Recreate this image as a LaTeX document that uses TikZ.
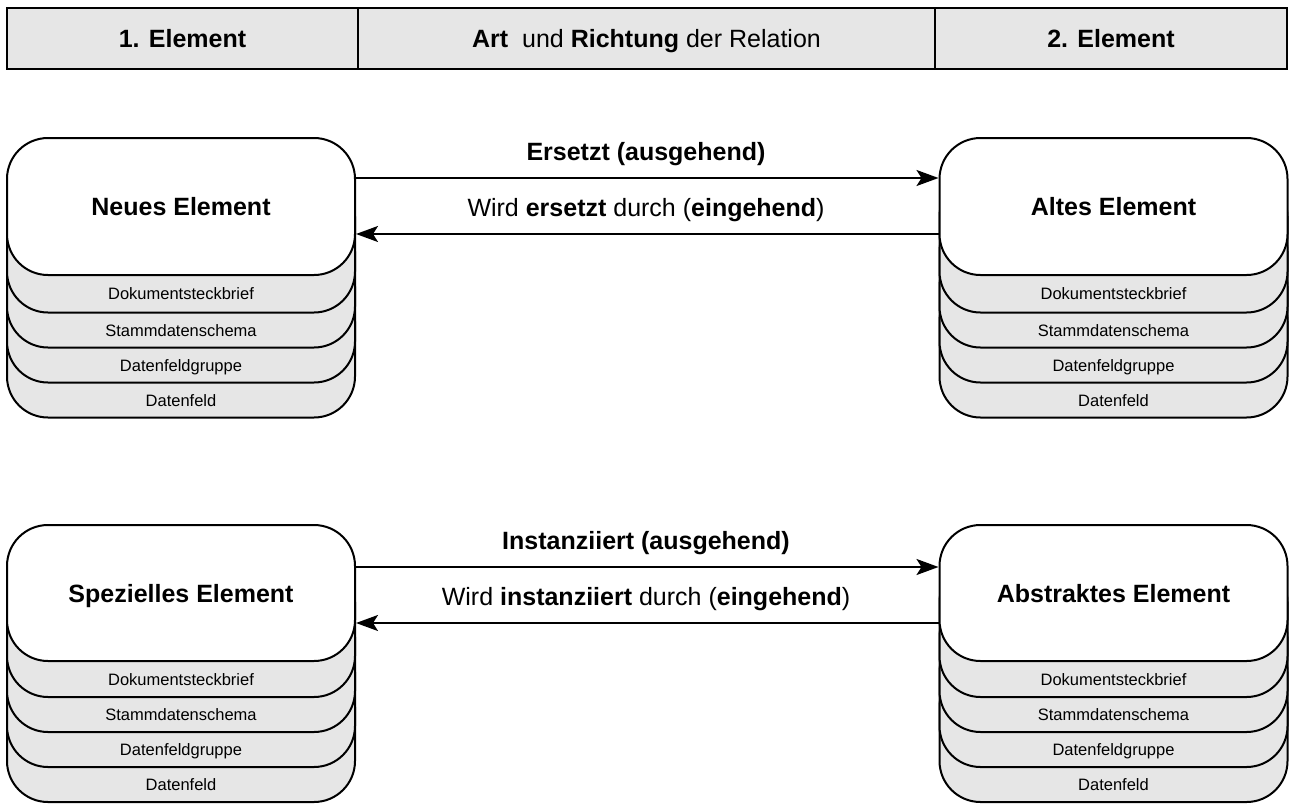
\documentclass[tikz,border=0pt]{standalone}
\usepackage{fontspec}
\setmainfont{Liberation Sans}
\usetikzlibrary{arrows.meta}
\definecolor{boxgray}{HTML}{E6E6E6}
\newcommand\stackbox[6]{%
  \pgfmathsetmacro\sbB{#3+#4}%
  \foreach \k/\lbl in {4/Datenfeld,3/Datenfeldgruppe,2/Stammdatenschema,1/Dokumentsteckbrief}{%
    \pgfmathsetmacro\sbL{\sbB+#5+35*(\k-1)}%
    \pgfmathsetmacro\sbP{\k==1 ? \sbB : \sbL-35}%
    \node[layerbox, minimum height=#4pt] (#1-l\k) at (#2,{-(\sbL-#4/2)}) {};
    \node[layertext] (#1-t\k) at (#2,{-((\sbP+\sbL)/2+6)}) {\lbl};
  }%
  \node[mainbox, minimum height=#4pt] (#1) at (#2,{-(#3+#4/2)}) {#6};
}
\begin{document}
\begin{tikzpicture}[x=1pt,y=1pt,
  mainbox/.style={draw=black, line width=2pt, rounded corners=41pt, fill=white,
    minimum width=348pt, inner sep=0pt, text height=18pt, text depth=0pt,
    font=\fontsize{25}{30}\selectfont\bfseries},
  layerbox/.style={draw=black, line width=2pt, rounded corners=41pt, fill=boxgray,
    minimum width=348pt, inner sep=0pt},
  layertext/.style={font=\fontsize{16.5}{20}\selectfont, inner sep=0pt, anchor=base},
  headbox/.style={draw=black, line width=1.8pt, fill=boxgray, minimum height=61pt,
    inner sep=0pt, text height=17.9pt, text depth=0pt,
    font=\fontsize{25}{30}\selectfont},
  arr/.style={line width=2pt, -{Stealth[length=22pt,width=16pt,inset=5pt]}},
  arrlabel/.style={font=\fontsize{25}{30}\selectfont, inner sep=0pt, anchor=base},
]
\useasboundingbox (0,0) rectangle (1289,-803);
% header
\node[headbox, minimum width=351pt] (h1) at (182.5,-38.5) {\textbf{1. Element}};
\node[headbox, minimum width=577pt] (h2) at (646.5,-38.5) {\textbf{Art}\ \ und \textbf{Richtung} der Relation};
\node[headbox, minimum width=352pt] (h3) at (1111,-38.5) {\textbf{2. Element}};
% stacks
\stackbox{neu}{181}{138}{137}{37.5}{Neues Element}
\stackbox{alt}{1113.5}{138}{137}{37.5}{Altes Element}
\stackbox{spez}{181}{525}{136}{36}{Spezielles Element}
\stackbox{abs}{1113.5}{525}{136}{36}{Abstraktes Element}
% relations group 1
\draw[arr] ([yshift=28.5pt]neu.east) -- ([yshift=28.5pt]alt.west);
\draw[arr] ([yshift=-27.5pt]alt.west) -- ([yshift=-27.5pt]neu.east);
\node[arrlabel] (l1) at (646,-160) {\textbf{Ersetzt (ausgehend)}};
\node[arrlabel] (l2) at (646,-216) {Wird \textbf{ersetzt} durch (\textbf{eingehend})};
% relations group 2
\draw[arr] ([yshift=26pt]spez.east) -- ([yshift=26pt]abs.west);
\draw[arr] ([yshift=-30pt]abs.west) -- ([yshift=-30pt]spez.east);
\node[arrlabel] (l3) at (646,-549) {\textbf{Instanziiert (ausgehend)}};
\node[arrlabel] (l4) at (646,-605) {Wird \textbf{instanziiert} durch (\textbf{eingehend})};
\end{tikzpicture}
\end{document}
